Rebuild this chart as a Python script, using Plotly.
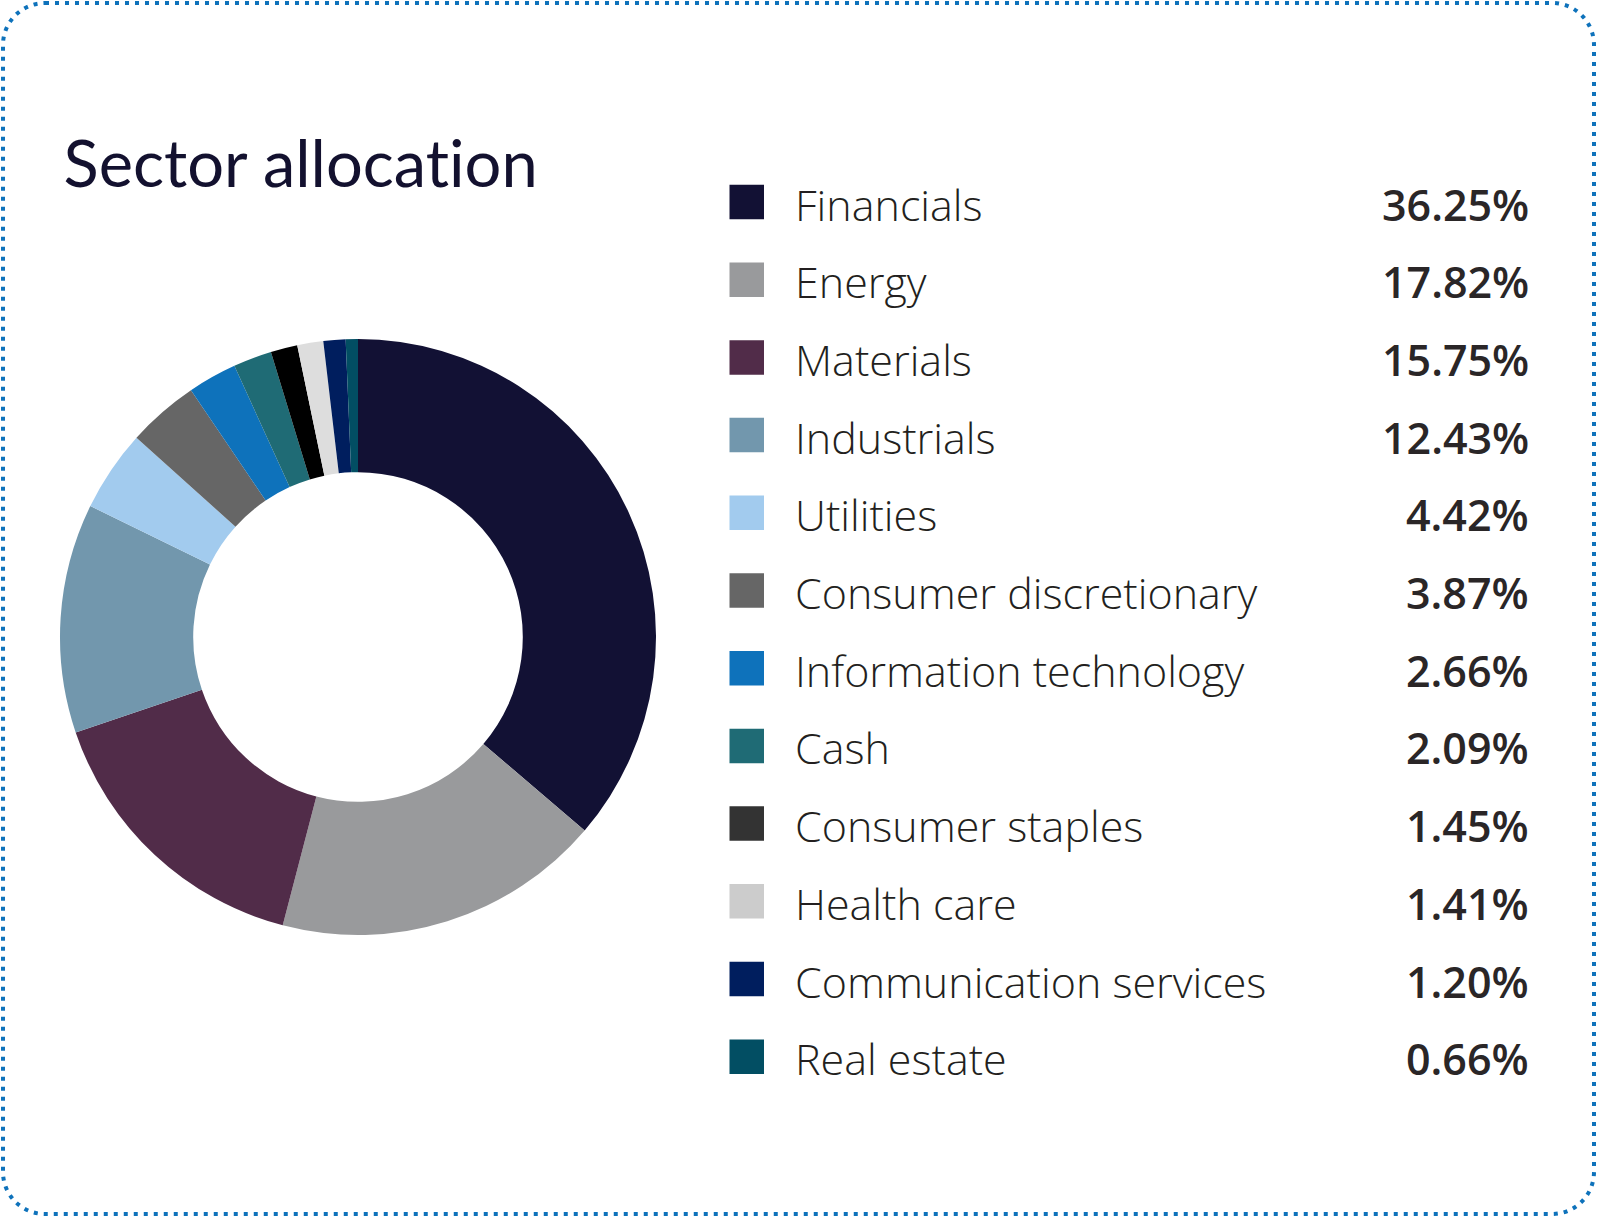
import plotly.graph_objects as go

W, H = 1597, 1217

sectors = ["Financials", "Energy", "Materials", "Industrials", "Utilities",
           "Consumer discretionary", "Information technology", "Cash",
           "Consumer staples", "Health care", "Communication services", "Real estate"]
weights = [36.25, 17.82, 15.75, 12.43, 4.42, 3.87, 2.66, 2.09, 1.45, 1.41, 1.20, 0.66]
slice_colors = ["#121134", "#999a9c", "#512c49", "#7297ad", "#a2cbee", "#666666",
                "#0e72bb", "#1f6b75", "#000000", "#dddddd", "#001e5e", "#024e63"]
legend_colors = ["#121134", "#999a9c", "#512c49", "#7297ad", "#a2cbee", "#666666",
                 "#0e72bb", "#1f6b75", "#333333", "#cccccc", "#001e5e", "#024e63"]
title_text = "Sector allocation"

fig = go.Figure()

# donut
cx, cy, R = 358, 637, 298
fig.add_trace(go.Pie(
    labels=sectors, values=weights, sort=False, direction="clockwise", rotation=0,
    hole=0.553, marker=dict(colors=slice_colors, line=dict(width=0)),
    textinfo="none", hoverinfo="label+percent", showlegend=False,
    domain=dict(x=[(cx - R) / W, (cx + R) / W], y=[(H - cy - R) / H, (H - cy + R) / H]),
))

# invisible pixel-space axes for layout decorations
fig.add_trace(go.Scatter(x=[0, W], y=[0, H], mode="markers", marker=dict(opacity=0),
                         hoverinfo="skip", showlegend=False))

shapes = []
annotations = []

# dotted rounded border
x0, y0, x1, y1, r = 3, 3, W - 3, H - 3, 42
k = 0.5523 * r
path = (f"M {x0 + r},{y0} L {x1 - r},{y0} "
        f"C {x1 - r + k},{y0} {x1},{y0 + r - k} {x1},{y0 + r} "
        f"L {x1},{y1 - r} "
        f"C {x1},{y1 - r + k} {x1 - r + k},{y1} {x1 - r},{y1} "
        f"L {x0 + r},{y1} "
        f"C {x0 + r - k},{y1} {x0},{y1 - r + k} {x0},{y1 - r} "
        f"L {x0},{y0 + r} "
        f"C {x0},{y0 + r - k} {x0 + r - k},{y0} {x0 + r},{y0} Z")
shapes.append(dict(type="path", xref="x", yref="y", path=path,
                   line=dict(color="#0e72bb", width=4, dash="4px,6px")))

# title
annotations.append(dict(x=61, y=162, xref="x", yref="y", text=title_text, showarrow=False,
                        xanchor="left", yanchor="middle",
                        font=dict(family="Lato", size=65, color="#13112f")))

# legend rows
row0, dy = 202, 77.7
sq = 34.5
for i, (name, val, col) in enumerate(zip(sectors, weights, legend_colors)):
    yc = row0 + dy * i
    shapes.append(dict(type="rect", xref="x", yref="y", x0=729.5, x1=729.5 + sq,
                       y0=yc - sq / 2, y1=yc + sq / 2, fillcolor=col, line=dict(width=0)))
    annotations.append(dict(x=793, y=yc + 2, xref="x", yref="y", text=name, showarrow=False,
                            xanchor="left", yanchor="middle",
                            font=dict(family="Open Sans", size=43, color="#231f20", weight=300)))
    annotations.append(dict(x=1531, y=yc + 2, xref="x", yref="y", text=f"{val:.2f}%",
                            showarrow=False, xanchor="right", yanchor="middle",
                            font=dict(family="Open Sans", size=43, color="#2a2627", weight=600)))

fig.update_layout(
    width=W, height=H, margin=dict(l=0, r=0, t=0, b=0),
    paper_bgcolor="white", plot_bgcolor="rgba(0,0,0,0)",
    xaxis=dict(range=[0, W], visible=False, fixedrange=True, domain=[0, 1]),
    yaxis=dict(range=[H, 0], visible=False, fixedrange=True, domain=[0, 1]),
    shapes=shapes, annotations=annotations, showlegend=False,
)

post = ("document.body.style.margin='0';document.body.style.overflow='hidden';"
        "var s=document.createElement('style');"
        "s.textContent='svg text{font-variant-ligatures:none;font-feature-settings:\"liga\" 0;}';"
        "document.head.appendChild(s);")
fig.write_html("out.html", config={"displayModeBar": False}, post_script=post)
